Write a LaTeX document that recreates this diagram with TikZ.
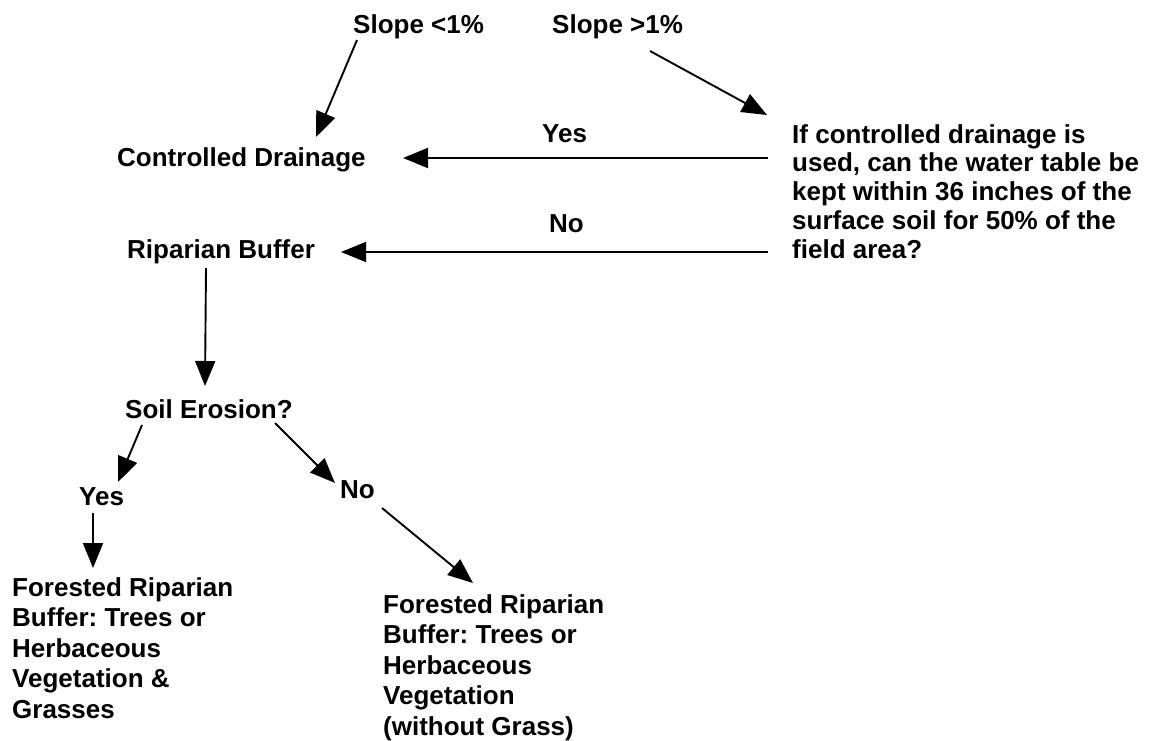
\documentclass[tikz,border=0pt]{standalone}
\usepackage{fontspec}
\setmainfont{Liberation Sans}
\usetikzlibrary{arrows.meta}
\frenchspacing
\begin{document}
\begin{tikzpicture}[x=1pt,y=-1pt,
  font=\fontsize{26}{28.75}\selectfont\bfseries,
  txt/.style={inner sep=0pt, anchor=base west},
  blk/.style={inner sep=0pt, anchor=north west, align=left},
  arr/.style={line width=1.9pt, -{Triangle[length=25pt,width=20pt]}}]
\useasboundingbox (0,0) rectangle (1149,741);
% text nodes
\node[txt] (sl) at (353,34) {Slope <1\%};
\node[txt] (sg) at (552,34) {Slope >1\%};
\node[txt] (cd) at (117,167) {Controlled Drainage};
\node[txt] (yes1) at (542,143) {Yes};
\node[txt] (no1) at (549,232) {No};
\node[txt] (rb) at (127,258) {Riparian Buffer};
\node[blk] (q) at (792,124) {If controlled drainage is\\used, can the water table be\\kept within 36 inches of the\\surface soil for 50\% of the\\field area?};
\node[txt] (se) at (125,418) {Soil Erosion?};
\node[txt] (yes2) at (79,505) {Yes};
\node[txt] (no2) at (340,498) {No};
\node[blk, font=\fontsize{26}{30.5}\selectfont\bfseries] (f1) at (12,577) {Forested Riparian\\Buffer: Trees or\\Herbaceous\\Vegetation \&\\Grasses};
\node[blk, font=\fontsize{26}{30.5}\selectfont\bfseries] (f2) at (383,594) {Forested Riparian\\Buffer: Trees or\\Herbaceous\\Vegetation\\(without Grass)};
% connector end points
\coordinate (a1s) at (357,40);  \coordinate (a1e) at (316,137);
\coordinate (a2s) at (650,51);  \coordinate (a2e) at (767,115);
\coordinate (a3s) at (768,158); \coordinate (a3e) at (403,158);
\coordinate (a4s) at (768,252); \coordinate (a4e) at (341,252);
\coordinate (a5s) at (206,268); \coordinate (a5e) at (205,386);
\coordinate (a6s) at (142,425); \coordinate (a6e) at (118,482);
\coordinate (a7s) at (275,423); \coordinate (a7e) at (335,483);
\coordinate (a8s) at (93,513);  \coordinate (a8e) at (93,568);
\coordinate (a9s) at (382,508); \coordinate (a9e) at (473,583);
\draw[arr] (a1s) -- (a1e);
\draw[arr] (a2s) -- (a2e);
\draw[arr] (a3s) -- (a3e);
\draw[arr] (a4s) -- (a4e);
\draw[arr] (a5s) -- (a5e);
\draw[arr] (a6s) -- (a6e);
\draw[arr] (a7s) -- (a7e);
\draw[arr] (a8s) -- (a8e);
\draw[arr] (a9s) -- (a9e);
\end{tikzpicture}
\end{document}
